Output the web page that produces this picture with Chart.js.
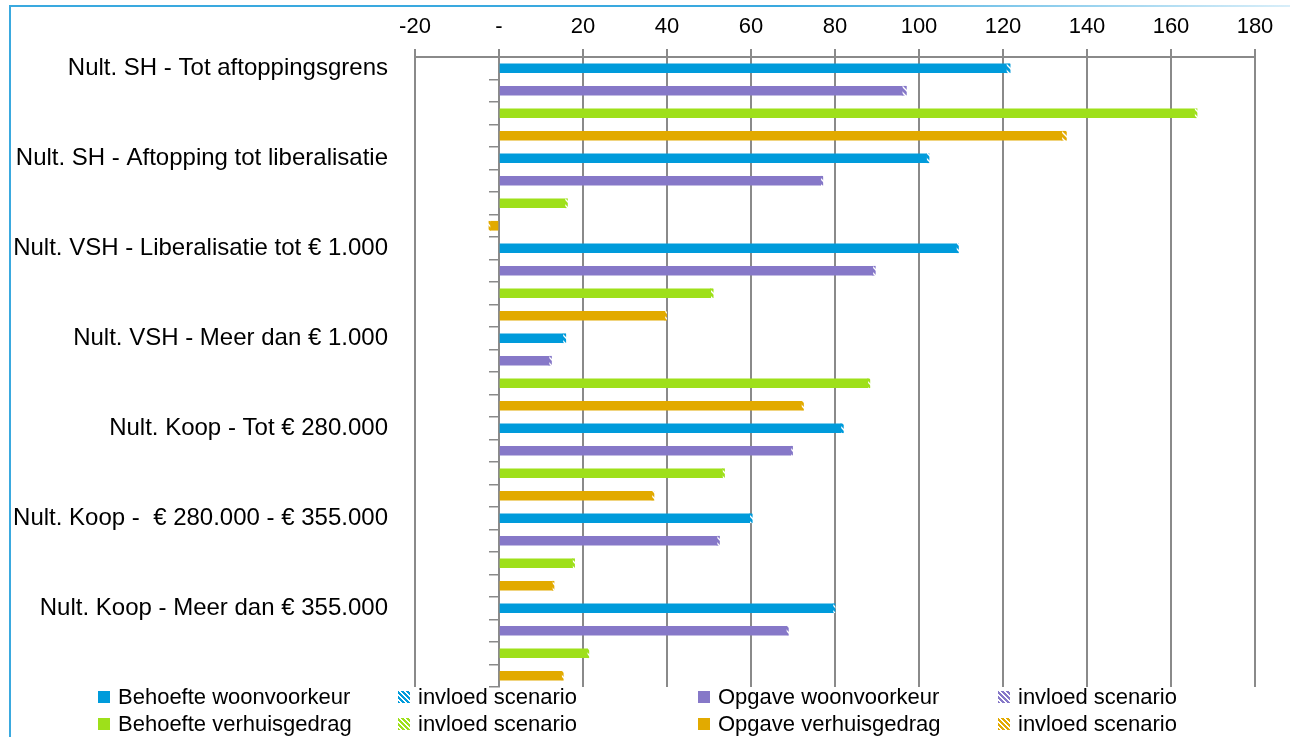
<!DOCTYPE html>
<html lang="nl">
<head>
<meta charset="utf-8">
<script src="https://cdn.jsdelivr.net/npm/chart.js@4/dist/chart.umd.min.js"></script>
<style>
  body { margin: 0; background: #fff; }
  #wrap { position: relative; width: 1290px; height: 737px; overflow: hidden; }
  #kader-links { position: absolute; left: 9px; top: 5px; width: 2px; height: 732px; background: #3aa9df; }
  #kader-boven { position: absolute; left: 9px; top: 5px; width: 1281px; height: 2px;
    background: linear-gradient(to right, #3aa9df, #3aa9df 60%, #d8eef9); }
  #grafiek { position: absolute; left: 0; top: 0; }
  .item { position: absolute; height: 26px; display: flex; align-items: center;
    font: 22px 'Liberation Sans', Arial, sans-serif; color: #000; white-space: nowrap; }
  .vak { width: 12px; height: 12px; margin-right: 8px; }
</style>
</head>
<body>
<div id="wrap">
  <canvas id="grafiek" width="1290" height="737"></canvas>
  <div id="kader-links"></div>
  <div id="kader-boven"></div>
  <div id="legenda"></div>
</div>
<script>
// Categorieen (groepen van vier balken)
const groepen = [
  "Nult. SH - Tot aftoppingsgrens",
  "Nult. SH - Aftopping tot liberalisatie",
  "Nult. VSH - Liberalisatie tot € 1.000",
  "Nult. VSH - Meer dan € 1.000",
  "Nult. Koop - Tot € 280.000",
  "Nult. Koop -  € 280.000 - € 355.000",
  "Nult. Koop - Meer dan € 355.000"
];

// Waarden per reeks, plus het kleine stukje "invloed scenario"
const behoefteWoon      = [120.8, 101.8, 108.9, 15.2, 81.4, 59.7, 79.5];
const behoefteWoonScen  = [0.9, 0.6, 0.5, 0.7, 0.6, 0.6, 0.5];
const opgaveWoon        = [96.0, 76.6, 89.0, 11.9, 69.5, 51.9, 68.4];
const opgaveWoonScen    = [1.0, 0.5, 0.6, 0.6, 0.4, 0.6, 0.5];
const behoefteVerh      = [165.6, 15.7, 50.4, 87.8, 53.2, 17.5, 21.0];
const behoefteVerhScen  = [0.6, 0.6, 0.6, 0.5, 0.5, 0.5, 0.4];
const opgaveVerh        = [134.0, -2.0, 39.5, 72.0, 36.4, 12.7, 14.9];
const opgaveVerhScen    = [1.1, -0.4, 0.4, 0.5, 0.5, 0.4, 0.4];

// As-labels boven
const asMin = -20;
const asMax = 180;
const asStap = 20;

const kleuren = {
  behoefteWoon: '#009bdb',
  opgaveWoon: '#8678c8',
  behoefteVerh: '#9ee01a',
  opgaveVerh: '#e2aa00'
};

const lettertype = "'Liberation Sans', Arial, sans-serif";
const ctx = document.getElementById('grafiek').getContext('2d');

// Elke groep krijgt vier rijen; alleen de eerste rij draagt het label
const rijen = [];
groepen.forEach((g) => { rijen.push(g, '', '', ''); });

function spreid(waarden, positie) {
  const uit = new Array(rijen.length).fill(null);
  waarden.forEach((v, i) => { uit[i * 4 + positie] = v; });
  return uit;
}

// Arcering voor "invloed scenario"
function arcering(kleur) {
  const c = document.createElement('canvas');
  c.width = 6; c.height = 6;
  const p = c.getContext('2d');
  p.fillStyle = kleur;
  p.fillRect(0, 0, 6, 6);
  p.strokeStyle = '#ffffff';
  p.lineWidth = 1.4;
  p.beginPath();
  p.moveTo(0, 0); p.lineTo(6, 6);
  p.moveTo(-3, 3); p.lineTo(3, 9);
  p.moveTo(3, -3); p.lineTo(9, 3);
  p.stroke();
  return ctx.createPattern(c, 'repeat');
}

const reeksen = [
  { naam: 'Behoefte woonvoorkeur', data: behoefteWoon, scen: behoefteWoonScen, kleur: kleuren.behoefteWoon, pos: 0 },
  { naam: 'Opgave woonvoorkeur', data: opgaveWoon, scen: opgaveWoonScen, kleur: kleuren.opgaveWoon, pos: 1 },
  { naam: 'Behoefte verhuisgedrag', data: behoefteVerh, scen: behoefteVerhScen, kleur: kleuren.behoefteVerh, pos: 2 },
  { naam: 'Opgave verhuisgedrag', data: opgaveVerh, scen: opgaveVerhScen, kleur: kleuren.opgaveVerh, pos: 3 }
];

const datasets = [];
reeksen.forEach((r) => {
  datasets.push({
    label: r.naam,
    data: spreid(r.data, r.pos),
    backgroundColor: r.kleur,
    barThickness: 9,
    stack: 'a'
  });
  datasets.push({
    label: 'invloed scenario',
    data: spreid(r.scen, r.pos),
    backgroundColor: arcering(r.kleur),
    barThickness: 9,
    stack: 'a'
  });
});

const grijs = '#8a8a8a';

new Chart(ctx, {
  type: 'bar',
  data: { labels: rijen, datasets: datasets },
  options: {
    indexAxis: 'y',
    responsive: false,
    animation: false,
    layout: { padding: { top: 0, left: 0, right: 35, bottom: 50 } },
    plugins: {
      legend: { display: false },
      tooltip: { enabled: false }
    },
    scales: {
      x: {
        position: 'top',
        stacked: true,
        min: asMin,
        max: asMax,
        ticks: {
          stepSize: asStap,
          color: '#000',
          padding: 9,
          font: { family: lettertype, size: 22 },
          callback: (v) => (v === 0 ? '-' : v)
        },
        grid: { color: grijs, lineWidth: 2, tickLength: 8 },
        border: { display: true, color: grijs, width: 2 },
        afterFit: (s) => { s.height = 57; }
      },
      y: {
        position: 'left',
        stacked: true,
        offset: true,
        ticks: {
          autoSkip: false,
          color: '#000',
          padding: 19,
          font: { family: lettertype, size: 24 }
        },
        grid: { display: false },
        border: { display: false },
        afterFit: (s) => { s.width = 415; }
      },
      // verticale as bij 0 met streepjes tussen de balken
      y2: {
        type: 'category',
        position: { x: 0 },
        offset: true,
        ticks: { display: false },
        grid: { offset: true, drawOnChartArea: false, drawTicks: true, tickLength: 9, color: grijs, lineWidth: 1.5 },
        border: { display: true, color: grijs, width: 2 }
      }
    }
  }
});

// Legenda: twee regels van vier kolommen
const legenda = document.getElementById('legenda');
const kolommen = [98, 398, 698, 998];
const regels = [697, 724];
[[0, 1], [2, 3]].forEach((paar, rij) => {
  paar.forEach((ri, k) => {
    const r = reeksen[ri];
    const stukken = [
      { tekst: r.naam, achtergrond: r.kleur },
      { tekst: 'invloed scenario', achtergrond: `repeating-linear-gradient(45deg, ${r.kleur} 0 2px, #fff 2px 3.5px)` }
    ];
    stukken.forEach((st, j) => {
      const el = document.createElement('div');
      el.className = 'item';
      el.style.left = kolommen[k * 2 + j] + 'px';
      el.style.top = (regels[rij] - 13) + 'px';
      el.innerHTML = `<span class="vak" style="background:${st.achtergrond}"></span>${st.tekst}`;
      legenda.appendChild(el);
    });
  });
});
</script>
</body>
</html>
